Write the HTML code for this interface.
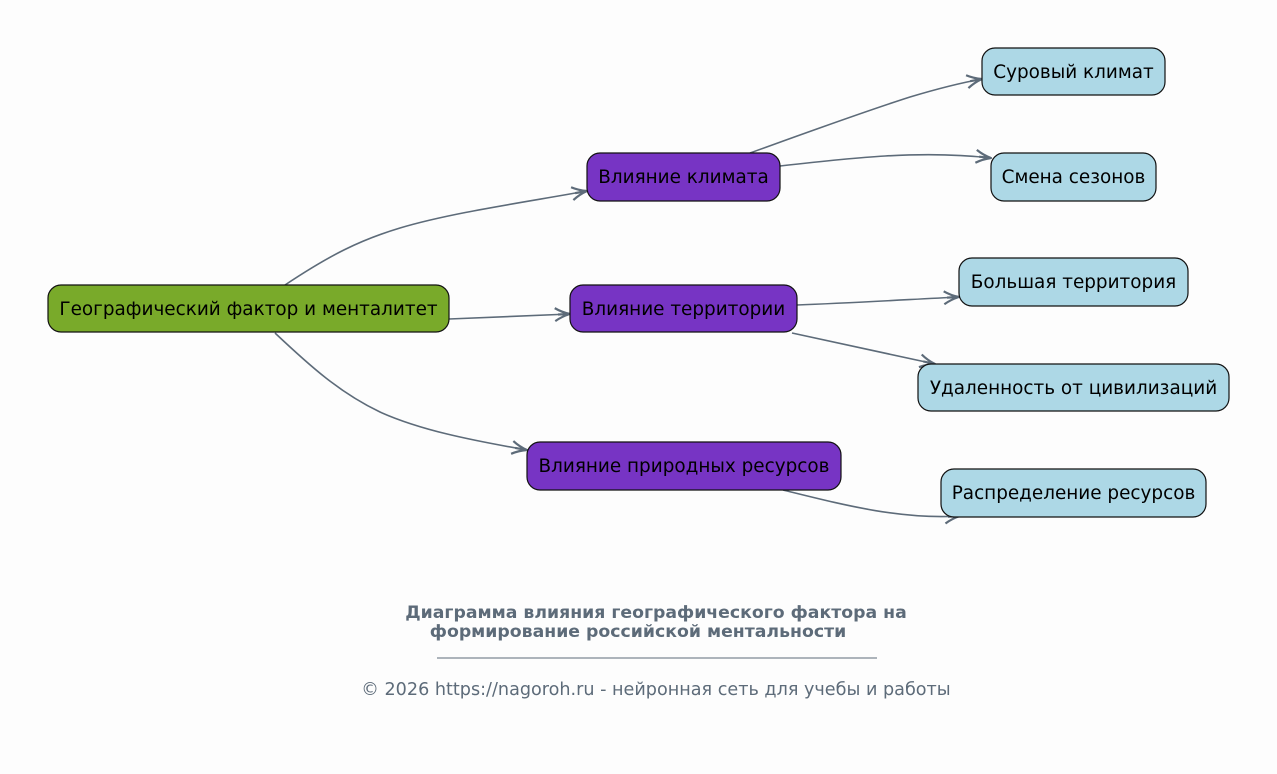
<!DOCTYPE html>
<html><head><meta charset="utf-8"><style>
html,body{margin:0;padding:0;background:#fdfdfd;}
svg{display:block;}
text{font-family:"DejaVu Sans","Liberation Sans",sans-serif;}
</style></head><body>
<svg width="1277" height="774" viewBox="0 0 1277 774" xmlns="http://www.w3.org/2000/svg">
<defs>
<marker id="a" viewBox="0 0 18 16" refX="17" refY="8" markerWidth="18" markerHeight="16" markerUnits="userSpaceOnUse" orient="auto">
<path d="M2,1.5 Q9,6 17,8 Q9,10 2,14.5 M17,8 L5,8" fill="none" stroke="#5d6b79" stroke-width="2.2" stroke-linejoin="round"/>
</marker>
</defs>
<rect width="1277" height="774" fill="#fdfdfd"/>
<g fill="none" stroke="#5d6b79" stroke-width="1.6" marker-end="url(#a)">
<path d="M285,285 C330,255 360,240 400,228 C450,213 520,203 587,191"/>
<path d="M449,319 L570,314"/>
<path d="M275,333 C310,366 340,393 380,412 C420,430 470,440 527,450"/>
<path d="M750,153 C800,135 860,113 910,97 C940,88 960,83 982,79"/>
<path d="M780,166 C850,158 920,150 991,158"/>
<path d="M797,305 C850,303 900,300 959,297"/>
<path d="M792,333 L935,364"/>
<path d="M783,490 C840,504 900,520 960,516"/>
</g>
<g stroke="#111" stroke-width="1.2">
<rect x="48" y="285" width="401" height="47" rx="13" fill="#79aa2a"/>
<rect x="587" y="153" width="193" height="48" rx="13" fill="#7734c4"/>
<rect x="570" y="285" width="227" height="47" rx="13" fill="#7734c4"/>
<rect x="527" y="442" width="314" height="48" rx="13" fill="#7734c4"/>
<rect x="982" y="48" width="183" height="47" rx="13" fill="#add8e6"/>
<rect x="991" y="153" width="165" height="48" rx="13" fill="#add8e6"/>
<rect x="959" y="258" width="229" height="48" rx="13" fill="#add8e6"/>
<rect x="918" y="364" width="311" height="47" rx="13" fill="#add8e6"/>
<rect x="941" y="469" width="265" height="48" rx="13" fill="#add8e6"/>
</g>
<g font-size="18.4" fill="#000" text-anchor="middle">
<text x="248.5" y="315">Географический фактор и менталитет</text>
<text x="683.5" y="183">Влияние климата</text>
<text x="683.5" y="315">Влияние территории</text>
<text x="684" y="472">Влияние природных ресурсов</text>
<text x="1073.5" y="78">Суровый климат</text>
<text x="1073.5" y="183">Смена сезонов</text>
<text x="1073.5" y="288">Большая территория</text>
<text x="1073.5" y="394">Удаленность от цивилизаций</text>
<text x="1073.5" y="499">Распределение ресурсов</text>
</g>
<g fill="#5d6b79" text-anchor="middle">
<text x="656" y="618" font-size="17.3" font-weight="bold">Диаграмма влияния географического фактора на</text>
<text x="638" y="637" font-size="17.3" font-weight="bold">формирование российской ментальности</text>
<line x1="437" y1="658" x2="877" y2="658" stroke="#5d6b79" stroke-width="1"/>
<text x="656" y="695" font-size="17.6">© 2026 https://nagoroh.ru - нейронная сеть для учебы и работы</text>
</g>
</svg>
</body></html>
